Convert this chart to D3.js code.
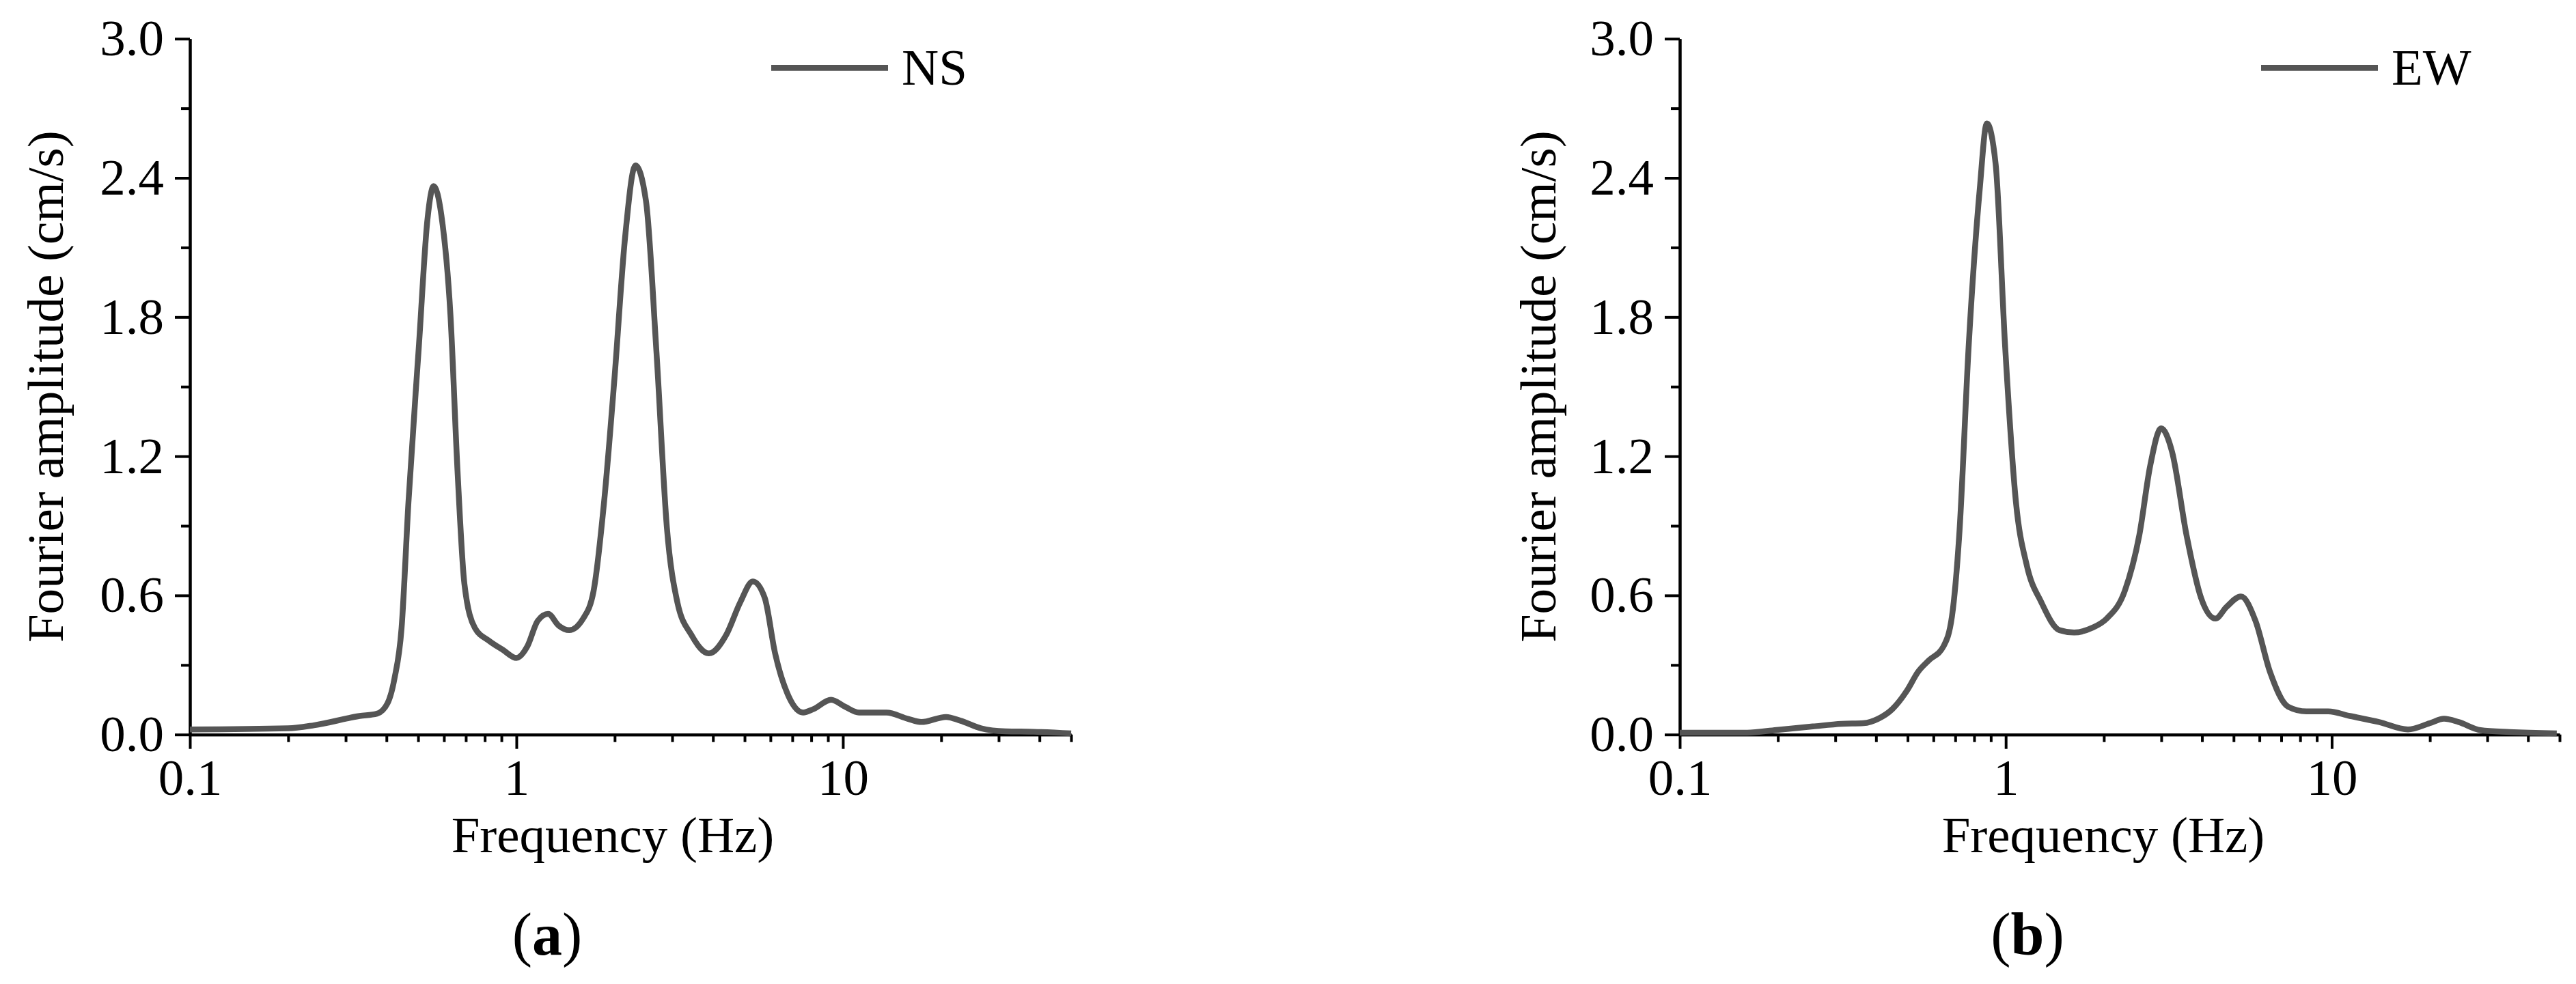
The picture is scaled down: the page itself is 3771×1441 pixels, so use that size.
<html lang="en">
  <head>
    <title>Fourier amplitude spectra</title>
    <script src="https://d3js.org/d3.v7.min.js"></script>
    <style>
    body { margin: 0; background: white; }
    svg text { font-family: "Liberation Serif", "Times New Roman", serif; fill: black; }
    .axis path, .axis line { stroke: black; stroke-width: 4; }
    .axis text { font-size: 75px; }
    </style>
  </head>
  <body>
    <svg id="chart"></svg>
    <script>
      // values
      var nsFreq = [0.1, 0.2, 0.24, 0.331, 0.374, 0.403, 0.423, 0.445, 0.467, 0.503, 0.534, 0.558, 0.589, 0.628, 0.66, 0.693, 0.746, 0.823, 0.909, 1.0, 1.08, 1.162, 1.251, 1.347, 1.451, 1.601, 1.724, 1.855, 1.998, 2.151, 2.316, 2.494, 2.685, 2.891, 3.112, 3.434, 3.885, 4.393, 4.848, 5.3, 5.76, 6.2, 6.845, 7.55, 8.13, 9.2, 10.15, 11.2, 13.6, 15.8, 17.4, 20.7, 22.9, 26.5, 31.5, 38.4, 50];
      var nsAmp  = [0.022, 0.027, 0.04, 0.08, 0.09, 0.135, 0.24, 0.46, 1.0, 1.68, 2.22, 2.365, 2.24, 1.81, 1.14, 0.65, 0.46, 0.405, 0.365, 0.33, 0.38, 0.49, 0.52, 0.47, 0.45, 0.5, 0.62, 1.0, 1.54, 2.14, 2.454, 2.3, 1.65, 0.89, 0.57, 0.43, 0.35, 0.43, 0.57, 0.66, 0.59, 0.35, 0.16, 0.095, 0.11, 0.15, 0.12, 0.095, 0.095, 0.068, 0.054, 0.076, 0.06, 0.027, 0.014, 0.012, 0.005];

      var ewFreq = [0.1, 0.161, 0.198, 0.256, 0.314, 0.366, 0.406, 0.449, 0.498, 0.538, 0.581, 0.644, 0.684, 0.72, 0.77, 0.832, 0.875, 0.931, 0.995, 1.075, 1.16, 1.286, 1.462, 1.62, 1.841, 2.04, 2.319, 2.569, 2.775, 2.997, 3.236, 3.585, 3.972, 4.401, 4.754, 5.267, 5.836, 6.466, 7.35, 8.36, 9.75, 11.37, 13.96, 17.13, 20.0, 22.1, 24.5, 28.6, 35.1, 49.0];
      var ewAmp  = [0.008, 0.008, 0.02, 0.035, 0.046, 0.049, 0.068, 0.11, 0.19, 0.27, 0.32, 0.38, 0.51, 0.86, 1.68, 2.35, 2.635, 2.46, 1.68, 1.0, 0.73, 0.57, 0.45, 0.44, 0.46, 0.5, 0.62, 0.86, 1.16, 1.32, 1.22, 0.86, 0.59, 0.5, 0.55, 0.595, 0.49, 0.27, 0.12, 0.1, 0.1, 0.08, 0.054, 0.022, 0.049, 0.068, 0.054, 0.019, 0.011, 0.005];

      var yMajor = [0, 0.6, 1.2, 1.8, 2.4, 3.0];
      var yMinor = [0.3, 0.9, 1.5, 2.1, 2.7];
      var xMajor = [0.1, 1, 10];
      var xMinor = [0.2, 0.3, 0.4, 0.5, 0.6, 0.7, 0.8, 0.9, 2, 3, 4, 5, 6, 7, 8, 9, 20, 30, 40, 50];

      var W = 3771, H = 1441;
      var svg = d3.select("#chart").attr("width", W).attr("height", H);
      svg.append("rect").attr("width", W).attr("height", H).attr("fill", "white");

      var panels = [
        {freq: nsFreq, amp: nsAmp, name: "NS", tag: "a", x0: 278, x1: 1568, ylab: 92, xlab: 897, cap: 801},
        {freq: ewFreq, amp: ewAmp, name: "EW", tag: "b", x0: 2459, x1: 3747, ylab: 2277, xlab: 3079, cap: 2968}
      ];

      var y = d3.scaleLinear().domain([0, 3]).range([1075.7, 56.7]);

      panels.forEach(function(p) {
        var x = d3.scaleLog().domain([0.1, 50]).range([p.x0, p.x1]);
        var g = svg.append("g");

        // minor ticks first, then main axes
        g.append("g").attr("class", "axis")
          .attr("transform", "translate(" + p.x0 + ",0)")
          .call(d3.axisLeft(y).tickValues(yMinor).tickSize(13).tickSizeOuter(0).tickFormat(""));
        g.append("g").attr("class", "axis")
          .attr("transform", "translate(0," + y(0) + ")")
          .call(d3.axisBottom(x).tickValues(xMinor).tickSize(11).tickSizeOuter(0).tickFormat(""));

        g.append("g").attr("class", "axis")
          .attr("transform", "translate(" + p.x0 + ",0)")
          .call(d3.axisLeft(y).tickValues(yMajor).tickSize(22).tickPadding(16).tickSizeOuter(0)
            .tickFormat(d3.format(".1f")));
        g.append("g").attr("class", "axis")
          .attr("transform", "translate(0," + y(0) + ")")
          .call(d3.axisBottom(x).tickValues(xMajor).tickSize(21).tickPadding(14).tickSizeOuter(0)
            .tickFormat(function(d){ return d < 1 ? "0.1" : d3.format("d")(d); }));

        var pts = p.freq.map(function(f, i){ return [f, p.amp[i]]; });
        var line = d3.line()
          .x(function(d){ return x(d[0]); })
          .y(function(d){ return y(d[1]); })
          .curve(d3.curveMonotoneX);
        g.append("path")
          .datum(pts)
          .attr("d", line)
          .attr("fill", "none")
          .attr("stroke", "#555555")
          .attr("stroke-width", 8.5)
          .attr("stroke-linejoin", "round");

        // legend
        g.append("line")
          .attr("x1", p.x0 + 851).attr("x2", p.x0 + 1022)
          .attr("y1", 99.3).attr("y2", 99.3)
          .attr("stroke", "#555555").attr("stroke-width", 8.7);
        g.append("text")
          .attr("x", p.x0 + 1042).attr("y", 124)
          .style("font-size", "75px")
          .text(p.name);

        g.append("text")
          .attr("transform", "translate(" + p.ylab + "," + ((y(0) + y(3)) / 2) + ") rotate(-90)")
          .attr("text-anchor", "middle")
          .style("font-size", "75px")
          .text("Fourier amplitude (cm/s)");

        g.append("text")
          .attr("x", p.xlab).attr("y", 1248)
          .attr("text-anchor", "middle")
          .style("font-size", "75px")
          .text("Frequency (Hz)");

        var cap = g.append("text")
          .attr("x", p.cap).attr("y", 1398)
          .attr("text-anchor", "middle")
          .style("font-size", "88px");
        cap.append("tspan").text("(");
        cap.append("tspan").style("font-weight", "bold").text(p.tag);
        cap.append("tspan").text(")");
      });
    </script>
  </body>
</html>
